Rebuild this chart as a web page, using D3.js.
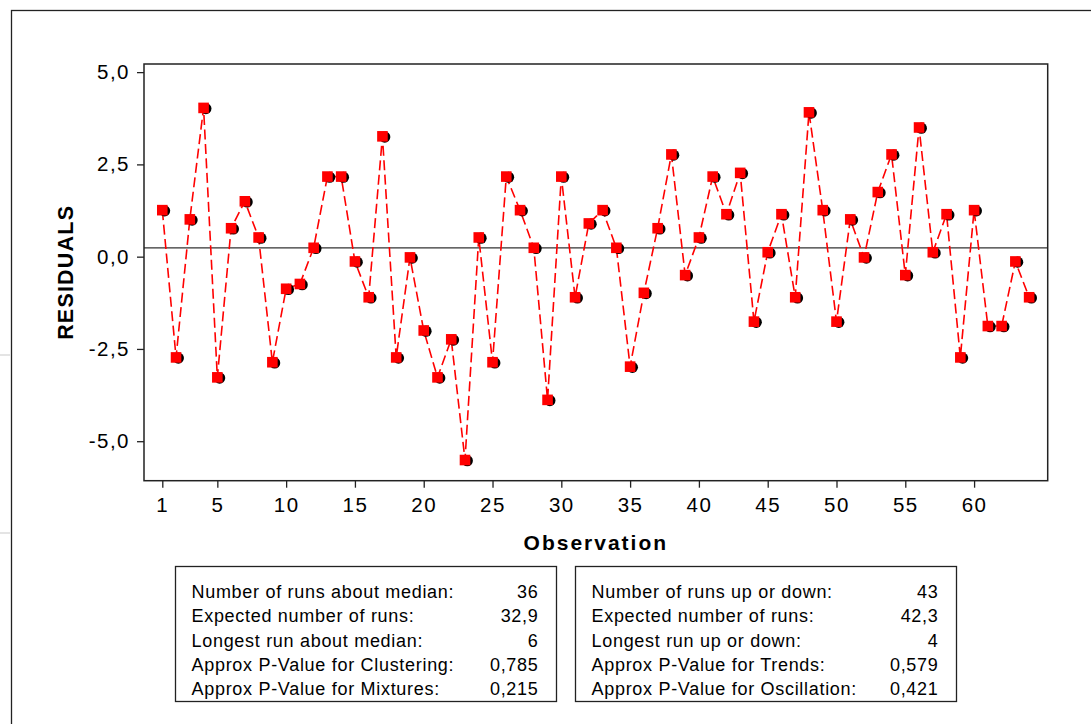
<!DOCTYPE html>
<html>
<head>
<meta charset="utf-8">
<script src="https://cdn.jsdelivr.net/npm/d3@7"></script>
<style>
	body { margin: 0; background: #fff; }
	svg { display: block; font-family: "Liberation Sans", Arial, sans-serif; }
	.axis text { font-size: 20.5px; letter-spacing: 1.5px; fill: #000; }
	.axis line { stroke: #222; stroke-width: 1.3; }
	.axis path { display: none; }
	.boxText { font-size: 18px; letter-spacing: 0.7px; fill: #000; }
</style>
</head>
<body>
<script>

// residuals, one per observation
var residuals = [1.26, -2.73, 1.01, 4.03, -3.27, 0.77, 1.50, 0.52, -2.86, -0.87,
	-0.74, 0.24, 2.17, 2.17, -0.13, -1.10, 3.26, -2.73, -0.02, -2.00,
	-3.27, -2.24, -5.51, 0.52, -2.86, 2.17, 1.26, 0.24, -3.88, 2.17,
	-1.10, 0.90, 1.26, 0.24, -2.98, -0.98, 0.77, 2.77, -0.50, 0.52,
	2.17, 1.15, 2.27, -1.76, 0.12, 1.15, -1.10, 3.91, 1.26, -1.76,
	1.01, -0.02, 1.75, 2.77, -0.50, 3.50, 0.12, 1.15, -2.73, 1.26,
	-1.88, -1.88, -0.13, -1.10];

// median of the residuals (horizontal line)
var median = 0.24;

// tick values and labels
var xTicks = [1, 5, 10, 15, 20, 25, 30, 35, 40, 45, 50, 55, 60];
var yTicks = [5, 2.5, 0, -2.5, -5];
var yTickLabels = ["5,0", "2,5", "0,0", "-2,5", "-5,0"];

// run test tables
var leftLabels = ["Number of runs about median:", "Expected number of runs:",
	"Longest run about median:", "Approx P-Value for Clustering:", "Approx P-Value for Mixtures:"];
var leftValues = ["36", "32,9", "6", "0,785", "0,215"];
var rightLabels = ["Number of runs up or down:", "Expected number of runs:",
	"Longest run up or down:", "Approx P-Value for Trends:", "Approx P-Value for Oscillation:"];
var rightValues = ["43", "42,3", "4", "0,579", "0,421"];

window.onload = function() {

	var w = 1091;
	var h = 724;

	// plot area
	var left = 144;
	var right = 1047.7;
	var top = 64;
	var bottom = 480.7;

	var svg = d3.select("body")
				.append("svg")
				.attr("width", w)
				.attr("height", h);

	// outer frame (runs off the right and bottom of the picture)
	svg.append("rect")
		.attr("x", 11.5)
		.attr("y", 10.5)
		.attr("width", 1200)
		.attr("height", 800)
		.attr("fill", "none")
		.attr("stroke", "#222")
		.attr("stroke-width", 1.3);

	// faint marks at the left edge
	svg.append("line").attr("x1", 0).attr("x2", 10).attr("y1", 355).attr("y2", 355)
		.attr("stroke", "#e4e4e4").attr("stroke-width", 2);
	svg.append("line").attr("x1", 0).attr("x2", 10).attr("y1", 533).attr("y2", 533)
		.attr("stroke", "#e4e4e4").attr("stroke-width", 2);

	// scales
	var scaleX = d3.scaleLinear()
					.domain([-0.33, 65.35])
					.range([left, right]);
	var scaleY = d3.scaleLinear()
					.domain([-6.07, 5.22])
					.range([bottom, top]);

	// axes
	var xAxis = d3.axisBottom(scaleX)
					.tickValues(xTicks)
					.tickSize(7)
					.tickPadding(10)
					.tickFormat(function(d) { return d; });
	var yAxis = d3.axisLeft(scaleY)
					.tickValues(yTicks)
					.tickSize(7)
					.tickPadding(7)
					.tickFormat(function(d, i) { return yTickLabels[i]; });

	svg.append("g")
		.attr("class", "axis")
		.attr("transform", "translate(0," + bottom + ")")
		.call(xAxis)
		.selectAll("text")
		.attr("font-family", null)
		.attr("font-size", null);

	svg.append("g")
		.attr("class", "axis")
		.attr("transform", "translate(" + left + ",0)")
		.call(yAxis)
		.selectAll("text")
		.attr("font-family", null)
		.attr("font-size", null);

	// median line
	svg.append("line")
		.attr("x1", left)
		.attr("x2", right)
		.attr("y1", scaleY(median))
		.attr("y2", scaleY(median))
		.attr("stroke", "#333")
		.attr("stroke-width", 1.3);

	// dashed line through the residuals
	var line = d3.line()
				.x(function(d, i) { return scaleX(i + 1); })
				.y(function(d) { return scaleY(d); });

	svg.append("path")
		.datum(residuals)
		.attr("d", line)
		.attr("fill", "none")
		.attr("stroke", "#ff0000")
		.attr("stroke-width", 1.6)
		.attr("stroke-dasharray", "10,4.5");

	// markers: black shadow circle with red square on top
	var marks = svg.selectAll(".mark")
					.data(residuals)
					.enter()
					.append("g")
					.attr("class", "mark")
					.attr("transform", function(d, i) {
						return "translate(" + scaleX(i + 1) + "," + scaleY(d) + ")";
					});
	marks.append("circle")
		.attr("cx", 2.3)
		.attr("cy", 0.7)
		.attr("r", 5.6)
		.attr("fill", "#000");
	marks.append("rect")
		.attr("x", -5.3)
		.attr("y", -5.3)
		.attr("width", 10.6)
		.attr("height", 10.6)
		.attr("fill", "#ff0000");

	// plot frame
	svg.append("rect")
		.attr("x", left)
		.attr("y", top)
		.attr("width", right - left)
		.attr("height", bottom - top)
		.attr("fill", "none")
		.attr("stroke", "#222")
		.attr("stroke-width", 1.5);

	// axis titles
	svg.append("text")
		.attr("x", (left + right) / 2)
		.attr("y", 550)
		.attr("text-anchor", "middle")
		.attr("font-size", "21px")
		.attr("font-weight", "bold")
		.attr("letter-spacing", "2px")
		.text("Observation");

	svg.append("text")
		.attr("transform", "translate(73," + ((top + bottom) / 2) + ") rotate(-90)")
		.attr("text-anchor", "middle")
		.attr("font-size", "21.5px")
		.attr("font-weight", "bold")
		.attr("letter-spacing", "1.2px")
		.text("RESIDUALS");

	// run test boxes
	drawBox(175.5, leftLabels, leftValues);
	drawBox(575.5, rightLabels, rightValues);

	// draws one framed table of labels with right aligned values
	function drawBox(x, labels, values) {
		var boxW = 381;
		var boxTop = 566.5;
		var boxH = 135;
		svg.append("rect")
			.attr("x", x)
			.attr("y", boxTop)
			.attr("width", boxW)
			.attr("height", boxH)
			.attr("fill", "none")
			.attr("stroke", "#222")
			.attr("stroke-width", 1.3);

		var rowY = d3.scaleLinear().domain([0, 4]).range([598, 695]);

		svg.selectAll(null)
			.data(labels)
			.enter()
			.append("text")
			.attr("class", "boxText")
			.attr("x", x + 16)
			.attr("y", function(d, i) { return rowY(i); })
			.text(function(d) { return d; });

		svg.selectAll(null)
			.data(values)
			.enter()
			.append("text")
			.attr("class", "boxText")
			.attr("x", x + boxW - 18)
			.attr("y", function(d, i) { return rowY(i); })
			.attr("text-anchor", "end")
			.text(function(d) { return d; });
	}
};
</script>
</body>
</html>
